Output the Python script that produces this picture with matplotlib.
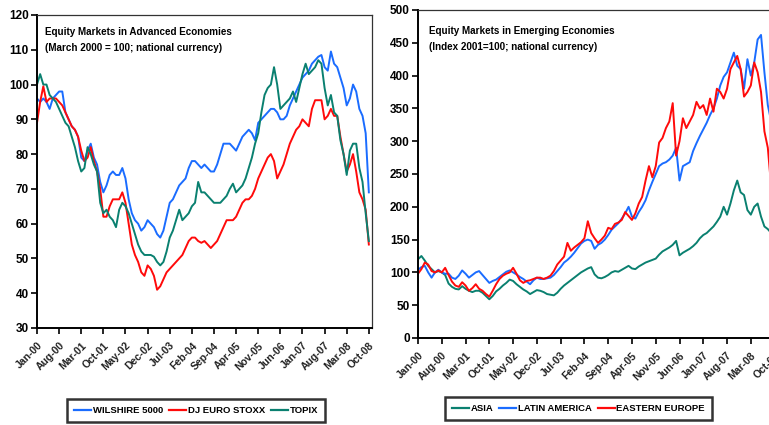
import numpy as np
import matplotlib
matplotlib.use('Agg')
import matplotlib.pyplot as plt

# fuente tipo Arial (la original es Arial Narrow, se compensa con tamaños menores)
FAMILIA = ['Liberation Sans Narrow', 'Liberation Sans', 'DejaVu Sans']
plt.rcParams['font.family'] = FAMILIA
plt.rcParams['font.weight'] = 'bold'

# etiquetas del eje x (cada 7 meses desde Jan-00)
etiquetas_x = ['Jan-00', 'Aug-00', 'Mar-01', 'Oct-01', 'May-02', 'Dec-02', 'Jul-03',
               'Feb-04', 'Sep-04', 'Apr-05', 'Nov-05', 'Jun-06', 'Jan-07', 'Aug-07',
               'Mar-08', 'Oct-08']

# ---- Economias avanzadas (mensual, Jan-00 .. Oct-08) ----
wilshire = [96, 95, 96, 95, 93, 96, 97, 98, 98, 92,
            90, 88, 87, 85, 79, 78, 81, 83, 79, 77,
            72, 69, 71, 74, 75, 74, 74, 76, 73, 67,
            63, 61, 60, 58, 59, 61, 60, 59, 57, 56,
            58, 62, 66, 67, 69, 71, 72, 73, 76, 78,
            78, 77, 76, 77, 76, 75, 75, 77, 80, 83,
            83, 83, 82, 81, 83, 85, 86, 87, 86, 84,
            89, 90, 91, 92, 93, 93, 92, 90, 90, 91,
            94, 96, 98, 100, 102, 103, 104, 106, 107, 108,
            108.5, 105, 104, 109.5, 106, 105, 102, 99, 94, 96,
            100, 98, 93, 91, 86, 69]
euro_stoxx = [89, 95, 99.5, 95, 96, 96, 96, 95, 94, 92,
              90, 88, 87, 85, 81, 78, 79, 82, 78, 75,
              70, 62, 62, 65, 67, 67, 67, 69, 66, 60,
              54, 51, 49, 46, 45, 48, 47, 45, 41, 42,
              44, 46, 47, 48, 49, 50, 51, 53, 55, 56,
              56, 55, 54.5, 55, 54, 53, 54, 55, 57, 59,
              61, 61, 61, 62, 64, 66, 67, 67, 68, 70,
              73, 75, 77, 79, 80, 78, 73, 75, 77, 80,
              83, 85, 87, 88, 90, 89, 88, 93, 95.5, 95.5,
              95.5, 90, 91, 93, 91, 91, 85, 80, 75, 77,
              80, 75, 69, 67, 64, 54]
topix = [100, 103, 100, 100, 97, 96, 95, 93, 91, 89,
         88, 85, 82, 78, 75, 76, 82, 80, 77, 75,
         66, 63, 64, 62, 61, 59, 64, 66, 65, 63,
         60, 57, 54, 52, 51, 51, 51, 50.5, 49, 48,
         49, 52, 56, 58, 61, 64, 61, 62, 63, 65,
         66, 72, 69, 69, 68, 67, 66, 66, 66, 67,
         68, 70, 71.5, 69, 70, 71, 73, 76, 79, 83,
         86, 92, 97, 99, 100, 105, 100, 93, 94, 95,
         96, 98, 95, 99, 103, 106, 103, 104, 105, 107,
         106, 99, 94, 97, 92, 91, 84, 80, 74, 81,
         83, 83, 76, 72, 63, 55]

# ---- Economias emergentes ----
asia = [120, 125, 118, 110, 105, 100, 102, 100, 96, 83,
        78, 75, 74, 79, 75, 72, 70, 72, 72, 69,
        64, 59, 64, 71, 75, 80, 84, 89, 87, 82,
        78, 74, 71, 67, 70, 73, 72, 70, 67, 66,
        65, 69, 75, 80, 84, 88, 92, 96, 100, 103,
        106, 108, 97, 92, 91, 93, 96, 100, 102, 101,
        104, 107, 110, 106, 105, 109, 112, 115, 117, 119,
        121, 127, 132, 135, 138, 142, 148, 126, 130, 133,
        136, 140, 145, 152, 157, 160, 165, 170, 177, 185,
        200, 188, 205, 225, 240, 222, 218, 195, 188, 200,
        205, 185, 170, 166, 160, 130]
america_latina = [104, 108, 110, 100, 92, 100, 104, 100, 98, 98,
                  92, 90, 95, 103, 98, 92, 96, 100, 102, 96,
                  90, 84, 87, 89, 93, 97, 101, 103, 100, 97,
                  93, 90, 86, 82, 88, 92, 90, 90, 91, 92,
                  96, 102, 108, 115, 119, 124, 130, 137, 144, 148,
                  150, 148, 136, 142, 145, 150, 157, 165, 170, 175,
                  182, 190, 200, 185, 182, 192, 200, 210, 225, 238,
                  250, 262, 266, 268, 272, 278, 290, 240, 262, 265,
                  268, 285, 297, 308, 318, 328, 340, 350, 365, 385,
                  398, 405, 420, 435, 415, 410, 380, 425, 400, 420,
                  455, 462, 405, 355, 330, 260]
europa_este = [98, 105, 115, 112, 102, 100, 103, 100, 107, 96,
               86, 80, 78, 85, 80, 72, 76, 82, 75, 72,
               67, 63, 72, 82, 90, 95, 98, 100, 107, 98,
               88, 84, 87, 88, 90, 92, 92, 90, 92, 95,
               102, 112, 118, 124, 145, 133, 138, 142, 146, 152,
               178, 160, 152, 145, 150, 156, 168, 166, 174, 176,
               180, 192, 186, 180, 190, 205, 215, 240, 262, 245,
               262, 298, 305, 320, 330, 358, 278, 300, 335, 320,
               330, 340, 360, 350, 355, 340, 365, 345, 380, 375,
               365, 380, 410, 420, 430, 410, 368, 375, 385, 420,
               405, 375, 315, 290, 230, 200]

AZUL = '#1a6cff'
ROJO = '#ff0a0a'
VERDE = '#0a8070'

W, H = 769, 425
fig = plt.figure(figsize=(W / 100, H / 100), dpi=100)


def caja(x0, x1, y_arriba, y_abajo):
    # convierte pixeles a coordenadas de figura
    return [x0 / W, 1 - y_abajo / H, (x1 - x0) / W, (y_abajo - y_arriba) / H]


def preparar_eje(ax, ymin, ymax, paso):
    ax.set_xlim(0, 106)
    ax.set_ylim(ymin, ymax)
    ax.set_yticks(np.arange(ymin, ymax + 1, paso))
    ax.set_xticks(np.arange(0, 7 * len(etiquetas_x), 7))
    ax.set_xticklabels(etiquetas_x, rotation=45, ha='right', rotation_mode='anchor',
                       fontsize=7.5, color='#222222')
    ax.tick_params(axis='y', labelsize=8.5, length=4, width=1.2, pad=2, colors='black')
    ax.tick_params(axis='x', length=4, width=1.2, pad=5)
    for lado in ['top', 'right']:
        ax.spines[lado].set_linewidth(0.9)
        ax.spines[lado].set_color('#333333')
    for lado in ['left', 'bottom']:
        ax.spines[lado].set_linewidth(1.4)


def leyenda(ax, cx, cy):
    leg = ax.legend(loc='center', bbox_to_anchor=(cx / W, 1 - cy / H),
                    bbox_transform=fig.transFigure, ncol=3, fontsize=6.8, frameon=True,
                    fancybox=False, handlelength=1.8, handletextpad=0.2, columnspacing=0.6,
                    borderpad=0.7, borderaxespad=0)
    leg.get_frame().set_edgecolor('black')
    leg.get_frame().set_linewidth(1.8)
    for linea in leg.get_lines():
        linea.set_linewidth(1.6)


# panel izquierdo
ax1 = fig.add_axes(caja(37, 372, 15, 328))
ax1.plot(np.arange(len(wilshire)), wilshire, color=AZUL, lw=1.4, label='WILSHIRE 5000')
ax1.plot(np.arange(len(euro_stoxx)), euro_stoxx, color=ROJO, lw=1.4, label='DJ EURO STOXX')
ax1.plot(np.arange(len(topix)), topix, color=VERDE, lw=1.4, label='TOPIX')
preparar_eje(ax1, 30, 120, 10)
ax1.text(0.024, 0.962, 'Equity Markets in Advanced Economies\n(March 2000 = 100; national currency)',
         transform=ax1.transAxes, fontsize=7.1, va='top', ha='left', linespacing=1.75)
leyenda(ax1, 196, 410.5)

# panel derecho (sale del borde de la figura)
ax2 = fig.add_axes(caja(418, 778, 10, 338))
ax2.plot(np.arange(len(asia)), asia, color=VERDE, lw=1.4, label='ASIA')
ax2.plot(np.arange(len(america_latina)), america_latina, color=AZUL, lw=1.4, label='LATIN AMERICA')
ax2.plot(np.arange(len(europa_este)), europa_este, color=ROJO, lw=1.4, label='EASTERN EUROPE')
preparar_eje(ax2, 0, 500, 50)
ax2.text(0.03, 0.95, 'Equity Markets in Emerging Economies\n(Index 2001=100; national currency)',
         transform=ax2.transAxes, fontsize=7.1, va='top', ha='left', linespacing=1.75)
leyenda(ax2, 578.5, 408.5)

fig.savefig('out.png', dpi=100)
